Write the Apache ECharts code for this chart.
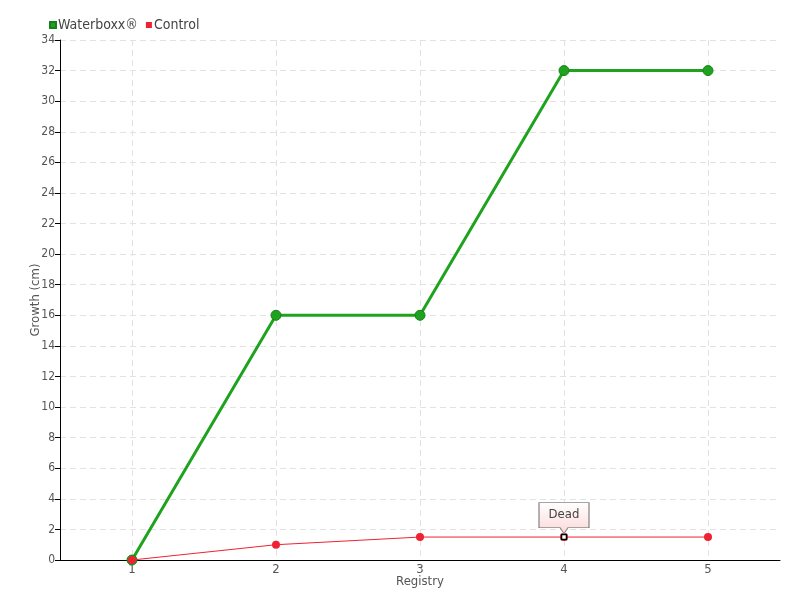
<!DOCTYPE html>
<html><head><meta charset="utf-8">
<script src="https://cdn.jsdelivr.net/npm/echarts@6/dist/echarts.min.js"></script>
<style>html,body{margin:0;padding:0;background:#fff}#c{width:800px;height:600px}</style>
</head><body><div id="c"></div>
<script>
const categories = ['1','2','3','4','5'];
const waterboxx = [0, 16, 16, 32, 32];
const control = [0, 1, 1.5, 1.5, 1.5];
const deadIndex = 3;
const deadLabel = 'Dead';

const font = '"DejaVu Sans Condensed", "Liberation Sans Narrow", sans-serif';
const chart = echarts.init(document.getElementById('c'));
const deadCoord = [deadIndex, control[deadIndex]];

chart.setOption({
  animation: false,
  textStyle: {fontFamily: font},
  legend: {
    left: 44, top: 13, itemWidth: 6, itemHeight: 6, itemGap: 8,
    icon: 'rect',
    textStyle: {color: '#444', fontSize: 14, fontFamily: font, padding: [0,0,0,-3]},
    data: ['Waterboxx®', 'Control']
  },
  grid: {left: 60, right: 20, top: 40, bottom: 40, containLabel: false},
  xAxis: {
    type: 'category', data: categories, boundaryGap: true,
    name: 'Registry', nameLocation: 'middle', nameGap: 15, nameMoveOverlap: false,
    nameTextStyle: {color: '#555', fontSize: 13, fontFamily: font},
    axisLine: {lineStyle: {color: '#000', width: 1}},
    axisTick: {alignWithLabel: true, length: 5, lineStyle: {color: '#000'}},
    axisLabel: {color: '#555', fontSize: 13, margin: 3, fontFamily: font},
    splitLine: {show: true, alignWithLabel: true, lineStyle: {color: '#e2e2e2', type: [6, 4]}}
  },
  yAxis: {
    type: 'value', min: 0, max: 34, interval: 2,
    name: 'Growth (cm)', nameLocation: 'middle', nameGap: 18, nameRotate: 90, nameMoveOverlap: false,
    nameTextStyle: {color: '#555', fontSize: 13, fontFamily: font},
    axisLine: {show: true, lineStyle: {color: '#000', width: 1}},
    axisTick: {show: true, length: 5, lineStyle: {color: '#000'}},
    axisLabel: {color: '#555', fontSize: 12, margin: 5, fontFamily: font},
    splitLine: {show: true, lineStyle: {color: '#e2e2e2', type: [6, 4]}}
  },
  series: [
    {
      name: 'Waterboxx®', type: 'line', data: waterboxx,
      symbol: 'circle', symbolSize: 10,
      lineStyle: {color: '#1fa31f', width: 3},
      itemStyle: {color: '#1fa31f', borderColor: '#17801a', borderWidth: 1},
      z: 2
    },
    {
      name: 'Control', type: 'line', data: control,
      symbol: 'circle', symbolSize: 8,
      lineStyle: {color: '#ee2233', width: 1},
      itemStyle: {color: '#ee2233'},
      z: 3,
      markPoint: {
        silent: true,
        data: [
          {
            coord: deadCoord,
            symbol: 'rect', symbolSize: 5,
            itemStyle: {color: '#fff', borderColor: '#000', borderWidth: 1.5},
            label: {show: false}
          },
          {
            coord: deadCoord,
            symbol: 'path://M0,0 L50,0 L50,25 L29,25 L25,31 L21,25 L0,25 Z',
            symbolSize: [50, 31], symbolKeepAspect: false,
            symbolOffset: [0, -19],
            itemStyle: {
              color: new echarts.graphic.LinearGradient(0,0,0,1,[{offset:0,color:'#ffffff'},{offset:1,color:'#fdd8d8'}]),
              borderColor: '#888', borderWidth: 1
            },
            label: {
              show: true, position: 'inside', offset: [0, -3], formatter: deadLabel,
              color: '#444', fontSize: 13, fontFamily: font
            }
          }
        ]
      }
    }
  ]
});
</script></body></html>
